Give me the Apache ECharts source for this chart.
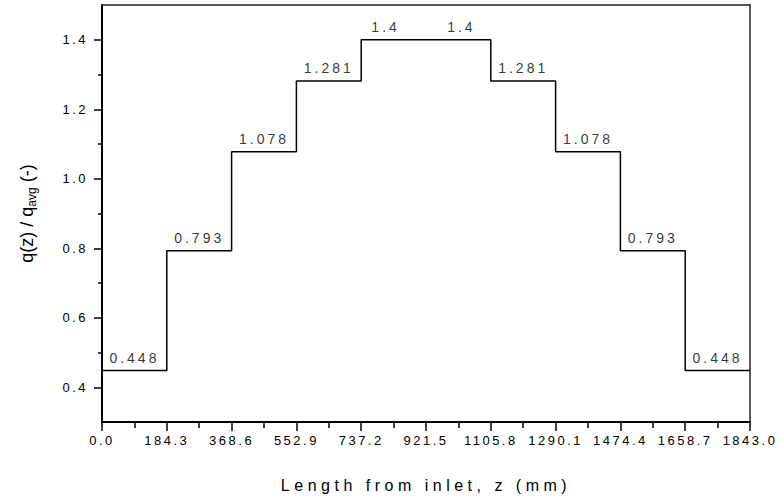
<!DOCTYPE html>
<html>
<head>
<meta charset="utf-8">
<script src="https://cdn.jsdelivr.net/npm/echarts@6/dist/echarts.min.js"></script>
<style>
  html, body { margin: 0; padding: 0; background: #ffffff; }
  #chart { width: 780px; height: 504px; }
</style>
</head>
<body>
<div id="chart"></div>
<script>
// Axial heat-flux profile: ten equal-length zones along the channel.
const zoneEdges = [0.0, 184.3, 368.6, 552.9, 737.2, 921.5, 1105.8, 1290.1, 1474.4, 1658.7, 1843.0];
const fluxRatio = [0.448, 0.793, 1.078, 1.281, 1.4, 1.4, 1.281, 1.078, 0.793, 0.448];
const yLabelValues = [0.4, 0.6, 0.8, 1.0, 1.2, 1.4];
const yMinorValues = [0.5, 0.7, 0.9, 1.1, 1.3];

// Step line: one point per zone start, plus the channel outlet.
const stepData = zoneEdges.map((z, i) => [z, fluxRatio[Math.min(i, fluxRatio.length - 1)]]);
// Value labels sit above the middle of each zone.
const labelData = fluxRatio.map((v, i) => [(zoneEdges[i] + zoneEdges[i + 1]) / 2, v]);
// Small horizontal nudges for the two peak labels.
const labelNudge = { 4: -8, 5: 3 };

const FONT = '"Liberation Sans", Arial, sans-serif';
const INK = '#000000';

const chart = echarts.init(document.getElementById('chart'), null, { renderer: 'svg' });

chart.setOption({
  animation: false,
  backgroundColor: '#ffffff',
  textStyle: { fontFamily: FONT, color: INK },
  grid: { left: 102, right: 30, top: 5, bottom: 82, outerBoundsMode: 'none' },
  xAxis: [
    {
      type: 'value',
      position: 'bottom',
      min: 0,
      max: 1843,
      interval: 184.3,
      name: 'Length from inlet, z (mm)',
      nameLocation: 'middle',
      nameGap: 55,
      nameTextStyle: { fontFamily: FONT, fontSize: 16, color: INK },
      axisLine: { show: true, lineStyle: { color: INK, width: 2 } },
      axisTick: { show: true, inside: false, length: 9, lineStyle: { color: INK, width: 1.5 } },
      minorTick: { show: true, splitNumber: 2, length: 6, lineStyle: { color: INK, width: 1.5 } },
      axisLabel: {
        fontFamily: FONT, fontSize: 13, color: INK, margin: 12,
        formatter: v => v.toFixed(1)
      },
      splitLine: { show: false }
    },
    {
      type: 'value',
      position: 'top',
      min: 0,
      max: 1843,
      axisLine: { show: true, lineStyle: { color: '#222222', width: 1.5 } },
      axisTick: { show: false },
      axisLabel: { show: false },
      splitLine: { show: false }
    }
  ],
  yAxis: [
    {
      type: 'value',
      position: 'left',
      min: 0.3,
      max: 1.5,
      name: '{t|q(z) / q}{s|avg}{t| (-)}',
      nameLocation: 'middle',
      nameGap: 64,
      nameRotate: 90,
      nameTextStyle: {
        fontFamily: FONT, color: INK,
        rich: {
          t: { fontFamily: FONT, fontSize: 18, color: INK, lineHeight: 23, verticalAlign: 'middle' },
          s: { fontFamily: FONT, fontSize: 12, color: INK, lineHeight: 23, verticalAlign: 'bottom' }
        }
      },
      axisLine: { show: true, lineStyle: { color: INK, width: 2 } },
      axisTick: { show: true, inside: false, length: 8, customValues: yLabelValues, lineStyle: { color: INK, width: 1.5 } },
      axisLabel: {
        fontFamily: FONT, fontSize: 13, color: INK, margin: 14,
        customValues: yLabelValues,
        formatter: v => v.toFixed(1)
      },
      splitLine: { show: false }
    },
    {
      type: 'value',
      position: 'left',
      min: 0.3,
      max: 1.5,
      axisLine: { show: false },
      axisTick: { show: true, inside: false, length: 4, customValues: yMinorValues, lineStyle: { color: INK, width: 1.5 } },
      axisLabel: { show: false },
      splitLine: { show: false }
    },
    {
      type: 'value',
      position: 'right',
      min: 0.3,
      max: 1.5,
      axisLine: { show: true, lineStyle: { color: '#222222', width: 1.5 } },
      axisTick: { show: false },
      axisLabel: { show: false },
      splitLine: { show: false }
    }
  ],
  series: [
    {
      type: 'line',
      xAxisIndex: 0,
      yAxisIndex: 0,
      step: 'end',
      data: stepData,
      symbol: 'none',
      lineStyle: { color: INK, width: 1.5 },
      silent: true
    },
    {
      type: 'scatter',
      xAxisIndex: 0,
      yAxisIndex: 0,
      symbolSize: 0,
      data: labelData.map((d, i) => ({
        value: d,
        label: labelNudge[i] ? { offset: [labelNudge[i], 0] } : undefined
      })),
      label: {
        show: true,
        position: 'top',
        distance: 6,
        fontFamily: FONT,
        fontSize: 14,
        color: INK,
        formatter: p => String(p.value[1])
      },
      silent: true
    }
  ]
});

// Spaced-out lettering for tick labels, value labels and the length title.
const spacingBySize = { '13px': '2.5px', '14px': '3px', '16px': '4.5px' };
document.querySelectorAll('#chart text').forEach(t => {
  const ls = spacingBySize[getComputedStyle(t).fontSize];
  if (ls) t.style.letterSpacing = ls;
});
</script>
</body>
</html>
